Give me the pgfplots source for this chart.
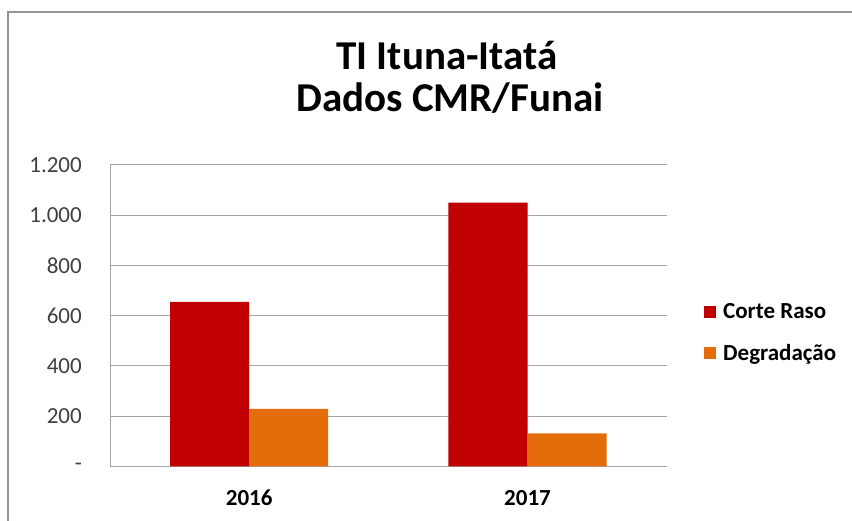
\documentclass[border=0pt]{standalone}
\usepackage{pgfplots}
\pgfplotsset{compat=1.18}
\usepackage{fontspec}
\setmainfont{Carlito}
\definecolor{cRed}{HTML}{C00000}
\definecolor{cOrange}{HTML}{E46C0A}
\definecolor{cGrid}{HTML}{A6A6A6}
\definecolor{cTick}{HTML}{404040}
\begin{document}
\begin{tikzpicture}
\path[use as bounding box] (0,0) rectangle (852bp,521bp);
\draw[color=cGrid!90!black, line width=1.2bp] (8bp,0) -- (8bp,509bp) -- (852bp,509bp);
\begin{axis}[
  at={(110bp,54.5bp)}, anchor=south west,
  scale only axis, width=556.7bp, height=301.5bp,
  xmin=-0.5, xmax=1.5, ymin=0, ymax=1200,
  xtick={0,1}, xticklabels={2016,2017},
  ytick={0,200,400,600,800,1000,1200},
  yticklabels={-,200,400,600,800,1.000,1.200},
  axis lines*=left,
  axis line style={color=cGrid, line width=1bp},
  ymajorgrids, grid style={color=cGrid, line width=1bp},
  major tick length=0pt,
  xticklabel style={font=\fontsize{23bp}{27bp}\selectfont\bfseries, text=black, inner sep=0pt, anchor=north, yshift=-23.5bp},
  yticklabel style={font=\fontsize{23bp}{27bp}\selectfont, text=cTick, inner sep=0pt, anchor=east, xshift=-28bp},
  legend style={draw=none, fill=none, at={(1.067,0.444)}, anchor=west, inner sep=0pt,
    font=\fontsize{23bp}{27bp}\selectfont\bfseries, row sep=24bp,
    nodes={inner sep=0pt}},
  legend cell align=left,
  legend image code/.code={\fill[#1] (0bp,-6bp) rectangle (12bp,6bp);},
]
\addplot[ybar, bar width=0.284, bar shift=-0.142, fill=cRed, draw=none] coordinates {(0,655) (1,1050)};
\addlegendentry{\hspace{7bp}Corte Raso}
\addplot[ybar, bar width=0.284, bar shift=0.142, fill=cOrange, draw=none] coordinates {(0,229) (1,132)};
\addlegendentry{\hspace{7bp}Degradação}
\end{axis}
\node[anchor=base, font=\fontsize{41bp}{45bp}\selectfont\bfseries] at (447bp,451bp) {TI Ituna-Itatá};
\node[anchor=base, font=\fontsize{41bp}{45bp}\selectfont\bfseries] at (450bp,409.3bp) {Dados CMR/Funai};
\end{tikzpicture}
\end{document}
